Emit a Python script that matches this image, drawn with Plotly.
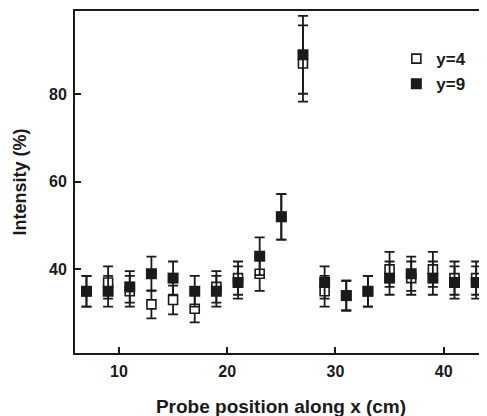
import plotly.graph_objects as go

x_pos = [7, 9, 11, 13, 15, 17, 19, 21, 23, 25, 27, 29, 31, 33, 35, 37, 39, 41, 43]
y4_vals = [35, 37, 35, 32, 33, 31, 36, 38, 39, 52, 87, 35, 34, 35, 40, 38, 40, 38, 38]
y4_err = [3.5, 3.7, 3.5, 3.2, 3.3, 3.1, 3.6, 3.8, 3.9, 5.2, 8.7, 3.5, 3.4, 3.5, 4.0, 3.8, 4.0, 3.8, 3.8]
y9_vals = [35, 35, 36, 39, 38, 35, 35, 37, 43, 52, 89, 37, 34, 35, 38, 39, 38, 37, 37]
y9_err = [3.5, 3.5, 3.6, 3.9, 3.8, 3.5, 3.5, 3.7, 4.3, 5.2, 8.9, 3.7, 3.4, 3.5, 3.8, 3.9, 3.8, 3.7, 3.7]
x_ticks = [10, 20, 30, 40]
y_ticks = [40, 60, 80]

FONT = "Liberation Sans, Arial, sans-serif"
INK = "#1a1a1a"

fig = go.Figure()
fig.add_trace(go.Scatter(
    x=x_pos, y=y4_vals, mode="markers", name="<b>y=4</b>",
    marker=dict(symbol="square", size=9, color="white", line=dict(color=INK, width=1.6)),
    error_y=dict(type="data", array=y4_err, visible=True, color=INK, thickness=1.8, width=5),
))
fig.add_trace(go.Scatter(
    x=x_pos, y=y9_vals, mode="markers", name="<b>y=9</b>",
    marker=dict(symbol="square", size=11, color=INK, line=dict(color=INK, width=0)),
    error_y=dict(type="data", array=y9_err, visible=True, color=INK, thickness=1.8, width=5),
))

fig.update_layout(
    width=487, height=416,
    margin=dict(l=67, r=8, t=3, b=71, autoexpand=False),
    paper_bgcolor="white", plot_bgcolor="white",
    font=dict(family=FONT, color=INK),
    showlegend=True,
    legend=dict(x=0.78, y=0.912, xanchor="left", yanchor="top",
                bgcolor="rgba(0,0,0,0)", font=dict(size=17, family=FONT, color=INK),
                tracegroupgap=0, itemwidth=30),
    xaxis=dict(range=[5.94, 44.0], tickvals=x_ticks, ticktext=[f"<b>{v}</b>" for v in x_ticks],
               ticks="inside", ticklen=6, tickwidth=1.5, tickcolor=INK, ticklabelstandoff=3,
               showline=True, linecolor=INK, linewidth=2, mirror=True,
               showgrid=False, zeroline=False, automargin=False,
               tickfont=dict(size=16, family=FONT, color=INK),
               title=dict(text="<b>Probe position along x (cm)</b>", font=dict(size=19, family=FONT, color=INK), standoff=20)),
    yaxis=dict(range=[20.9, 99.0], tickvals=y_ticks, ticktext=[f"<b>{v}</b>" for v in y_ticks],
               ticks="inside", ticklen=6, tickwidth=1.5, tickcolor=INK, ticklabelstandoff=3,
               showline=True, linecolor=INK, linewidth=2, mirror=False,
               showgrid=False, zeroline=False, automargin=False,
               tickfont=dict(size=16, family=FONT, color=INK),
               title=dict(text="<b>Intensity (%)</b>", font=dict(size=18, family=FONT, color=INK), standoff=18)),
)

fig.write_html("out.html")
